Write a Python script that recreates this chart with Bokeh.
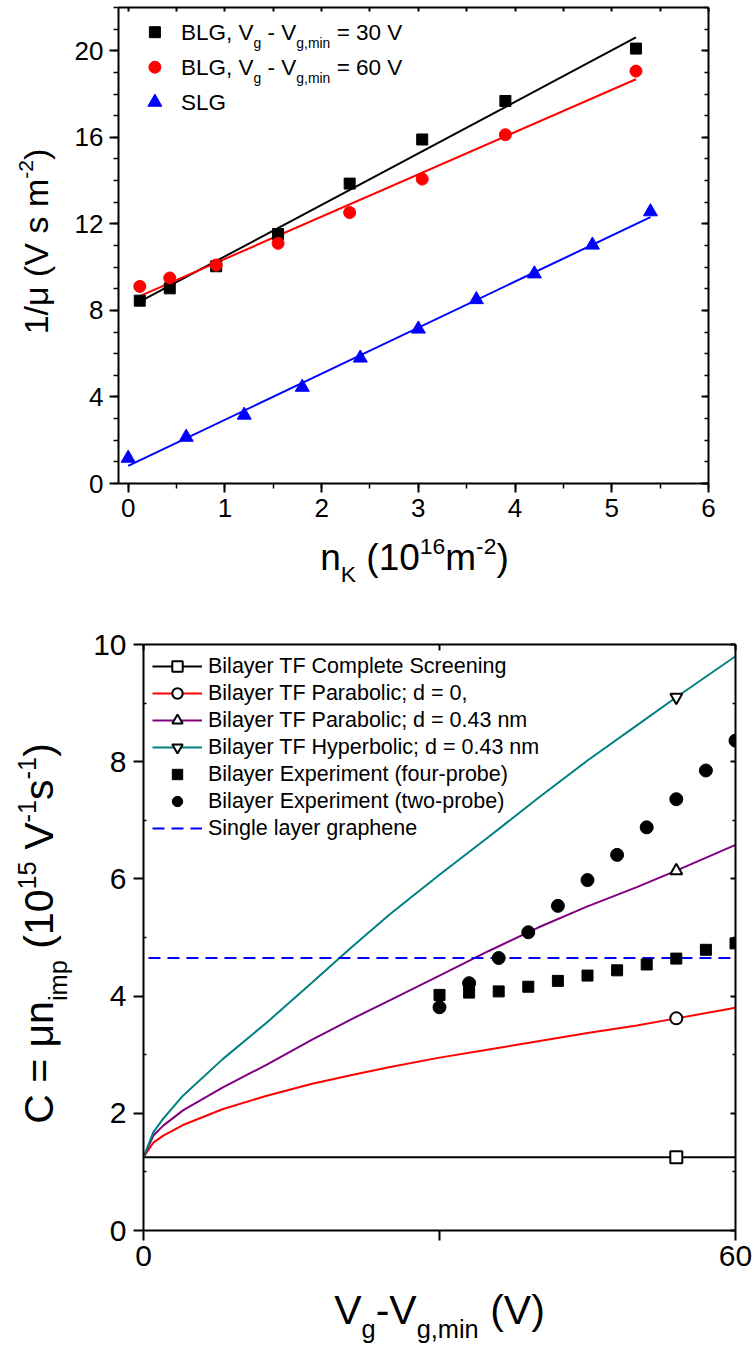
import numpy as np
from bokeh.plotting import figure
from bokeh.models import Range1d, LinearAxis, FixedTicker, Label, Legend, LegendItem
from bokeh.layouts import column, row
from bokeh.embed import file_html
from bokeh.resources import INLINE

# ---------------- data: top panel (1/mu vs n_K) ----------------
nk_blg = [0.12, 0.43, 0.91, 1.55, 2.29, 3.04, 3.90, 5.25]
inv_mu_blg30 = [8.45, 9.02, 10.04, 11.53, 13.86, 15.90, 17.68, 20.10]
inv_mu_blg60 = [9.11, 9.50, 10.10, 11.10, 12.52, 14.07, 16.12, 19.06]
nk_slg = [0.0, 0.6, 1.2, 1.8, 2.4, 3.0, 3.6, 4.2, 4.8, 5.4]
inv_mu_slg = [1.17, 2.14, 3.16, 4.45, 5.80, 7.14, 8.50, 9.69, 11.02, 12.56]
top_xticks = [0, 1, 2, 3, 4, 5, 6]
top_yticks = [0, 4, 8, 12, 16, 20]

# ---------------- data: bottom panel (C vs Vg - Vg,min) ----------------
vg_theory = [0, 1, 2, 4, 8, 12.5, 17, 21, 25, 30, 35, 40, 45, 50, 54, 60]
c_parab_d0 = [1.25, 1.50, 1.62, 1.80, 2.07, 2.30, 2.50, 2.65, 2.79, 2.95, 3.09, 3.23, 3.37, 3.50, 3.62, 3.80]
c_parab_d043 = [1.25, 1.62, 1.79, 2.05, 2.44, 2.83, 3.25, 3.60, 3.93, 4.35, 4.77, 5.17, 5.53, 5.86, 6.14, 6.58]
c_hyperb_d043 = [1.25, 1.68, 1.91, 2.30, 2.92, 3.55, 4.22, 4.82, 5.40, 6.07, 6.72, 7.38, 8.02, 8.62, 9.10, 9.80]
vg_complete = [0, 60]
c_complete = [1.25, 1.25]
vg_exp = [30, 33, 36, 39, 42, 45, 48, 51, 54, 57, 60]
c_four_probe = [4.02, 4.06, 4.08, 4.16, 4.26, 4.35, 4.44, 4.54, 4.64, 4.79, 4.90]
c_two_probe = [3.81, 4.22, 4.65, 5.09, 5.54, 5.98, 6.41, 6.88, 7.36, 7.85, 8.36]
vg_slg = [0.5, 60]
c_slg = [4.65, 4.65]
marker_vg = 54.0
bot_xticks = [0, 30, 60]
bot_yticks = [0, 2, 4, 6, 8, 10]

FONT = "Liberation Sans"
NB = "\u00a0"

# Arial / Liberation Sans advance widths (per 1000 em)
AW = {' ': 278, NB: 278, '(': 333, ')': 333, ',': 278, '-': 333, '.': 278, '/': 278, '=': 584,
      'B': 667, 'C': 722, 'F': 611, 'G': 778, 'K': 667, 'L': 556, 'S': 667, 'T': 611, 'V': 667,
      'c': 500, 'g': 556, 'i': 222, 'l': 222, 'm': 833, 'n': 556, 'p': 556, 'r': 333, 's': 500,
      't': 278, 'y': 500, '\u03bc': 576}


def text_w(s, size):
    return sum(AW.get(c, 556) for c in s) / 1000.0 * size


SUB = 0.62
BASE_FIX = 0.35   # Bokeh draws "alphabetic" text ~0.35 em below the anchor; compensate


def rich_label(p, to_data, X, Y, pieces, size, rotate=False, center=True):
    """Place text made of normal / subscript / superscript pieces; (X, Y) = baseline in page pixels."""
    x, y = to_data(X, Y)
    sizes = [size * (1 if k == "n" else SUB) for _, k in pieces]
    widths = [text_w(t, s) for (t, _), s in zip(pieces, sizes)]
    adv = -sum(widths) / 2 if center else 0.0
    for (t, k), fs, w in zip(pieces, sizes, widths):
        rise = {"n": 0.0, "b": -0.32 * size, "p": 0.42 * size}[k] + BASE_FIX * fs
        xo, yo = ((-rise, adv) if rotate else (adv, rise))
        p.add_layout(Label(x=x, y=y, x_offset=xo, y_offset=yo, text=t.replace(" ", NB),
                           angle=(np.pi / 2 if rotate else 0.0),
                           text_font=FONT, text_font_size=f"{fs:.1f}px", text_color="black",
                           text_baseline="alphabetic", text_align="left"))
        adv += w


def style_axis(ax, ticks, minor, fsize, out_major, in_major, out_minor, in_minor, standoff,
               labels=True, overrides=None):
    ax.ticker = FixedTicker(ticks=ticks, minor_ticks=minor)
    ax.axis_line_width = 2
    ax.axis_line_color = "black"
    ax.major_tick_line_width = 2
    ax.minor_tick_line_width = 1.5
    ax.major_tick_out = out_major
    ax.major_tick_in = in_major
    ax.minor_tick_out = out_minor
    ax.minor_tick_in = in_minor
    ax.axis_label = None
    if labels:
        ax.major_label_text_font = FONT
        ax.major_label_text_font_size = fsize
        ax.major_label_text_color = "black"
        ax.major_label_standoff = standoff
        if overrides:
            ax.major_label_overrides = overrides
    else:
        # mirror axis: ticks only, labels are not painted
        ax.major_label_text_font_size = "1px"
        ax.major_label_text_color = None
        ax.major_label_standoff = 0


def label_fig(X0, X1, Y0, Y1, left=0, right=0):
    """Text-only panel whose data coordinates are page pixels (y downwards)."""
    f = figure(frame_width=X1 - X0, frame_height=Y1 - Y0,
               x_range=Range1d(X0, X1), y_range=Range1d(Y1, Y0),
               min_border_left=left, min_border_right=right, min_border_top=0, min_border_bottom=0,
               x_axis_type=None, y_axis_type=None, toolbar_location=None, output_backend="svg")
    f.outline_line_color = None
    f.background_fill_color = "white"
    f.border_fill_color = "white"
    return f


def page(X, Y):
    return X, Y


# common plot borders
BL, BR = 52, 20

# ======================= TOP PANEL =======================
T_L, T_R, T_T, T_B = 118, 708, 7, 483   # frame in page pixels
TOP_H = 620
P1_BOT = 47
tx0, tx1, ty0, ty1 = -0.1, 6.0, 0.0, 22.0


def top_xy(X, Y):
    return (tx0 + (X - T_L) / (T_R - T_L) * (tx1 - tx0), ty0 + (T_B - Y) / (T_B - T_T) * (ty1 - ty0))


p1 = figure(frame_width=T_R - T_L, frame_height=T_B - T_T,
            x_range=Range1d(tx0, tx1), y_range=Range1d(ty0, ty1),
            min_border_left=BL, min_border_right=BR, min_border_top=T_T, min_border_bottom=P1_BOT,
            output_backend="svg", toolbar_location=None)
p1.grid.visible = False
p1.outline_line_color = None
p1.background_fill_color = "white"
p1.border_fill_color = "white"

half_steps = [i * 0.5 for i in range(0, 13)]
style_axis(p1.below[0], top_xticks, half_steps, "26px", 9, 0, 5, 0, 6)
style_axis(p1.left[0], top_yticks, list(range(0, 23)), "26px", 9, 0, 5, 0, 6)
ax_r = LinearAxis()
style_axis(ax_r, top_yticks, list(range(0, 23)), None, 0, 7, 0, 4, 0, labels=False)
p1.add_layout(ax_r, "right")
ax_t = LinearAxis()
style_axis(ax_t, half_steps, [], None, 0, 4, 0, 0, 0, labels=False)
p1.add_layout(ax_t, "above")

for xs, ys, col in [(nk_blg, inv_mu_blg30, "black"), (nk_blg, inv_mu_blg60, "#FF0000"),
                    (nk_slg, inv_mu_slg, "#0000FF")]:
    coef = np.polyfit(xs, ys, 1)
    xf = np.array([min(xs), max(xs)])
    p1.line(xf, np.polyval(coef, xf), line_color=col, line_width=2)

p1.scatter(nk_blg, inv_mu_blg30, marker="square", size=11, color="black")
p1.scatter(nk_blg, inv_mu_blg60, marker="circle", size=12, color="#FF0000")
p1.scatter(nk_slg, inv_mu_slg, marker="triangle", size=14, color="#0000FF")

# legend of the top panel (drawn by hand because of the subscripts)
leg_rows_Y = [31.7, 66.7, 101.7]
leg_specs = [("square", 11, "black"), ("circle", 12, "#FF0000"), ("triangle", 14, "#0000FF")]
leg_texts = [
    [("BLG, V", "n"), ("g", "b"), (" - V", "n"), ("g,min", "b"), (" = 30 V", "n")],
    [("BLG, V", "n"), ("g", "b"), (" - V", "n"), ("g,min", "b"), (" = 60 V", "n")],
    [("SLG", "n")],
]
for Yc, (mk, sz, col), pieces in zip(leg_rows_Y, leg_specs, leg_texts):
    mx, my = top_xy(154.4, Yc)
    p1.scatter([mx], [my], marker=mk, size=sz, color=col)
    rich_label(p1, top_xy, 180.5, Yc + 8.0, pieces, 22.5, center=False)

# axis-title panels of the top plot
yl1 = label_fig(0, T_L - BL, 0, TOP_H)
rich_label(yl1, page, 47, 241,
           [("1/\u03bc (V s m", "n"), ("-2", "p"), (")", "n")], 34, rotate=True)
P1_H = T_B + P1_BOT
xl1 = label_fig(T_L, T_R, P1_H, TOP_H, left=BL, right=BR)
rich_label(xl1, page, 414, 570,
           [("n", "n"), ("K", "b"), (" (10", "n"), ("16", "p"), ("m", "n"), ("-2", "p"), (")", "n")], 37)

# ======================= BOTTOM PANEL =======================
B_L, B_R, B_T, B_B = 142, 734, 644, 1230
PAGE_H = 1348
bx0, bx1, by0, by1 = 0.0, 60.0, 0.0, 10.0

P2_BOT = 52
p2 = figure(frame_width=B_R - B_L, frame_height=B_B - B_T,
            x_range=Range1d(bx0, bx1), y_range=Range1d(by0, by1),
            min_border_left=BL, min_border_right=BR, min_border_top=B_T - TOP_H,
            min_border_bottom=P2_BOT, output_backend="svg", toolbar_location=None)
p2.grid.visible = False
p2.outline_line_color = None
p2.background_fill_color = "white"
p2.border_fill_color = "white"

style_axis(p2.below[0], bot_xticks, [], "30px", 10, 0, 0, 0, 5, overrides={30: ""})
style_axis(p2.left[0], bot_yticks, [1, 3, 5, 7, 9], "30px", 10, 0, 0, 3, 7)
ax_r2 = LinearAxis()
style_axis(ax_r2, bot_yticks, [1, 3, 5, 7, 9], None, 0, 5, 0, 3, 0, labels=False)
p2.add_layout(ax_r2, "right")
ax_t2 = LinearAxis()
style_axis(ax_t2, bot_xticks, [], None, 0, 6, 0, 0, 0, labels=False)
p2.add_layout(ax_t2, "above")

l_comp = p2.line(vg_complete, c_complete, line_color="black", line_width=2)
l_par0 = p2.line(vg_theory, c_parab_d0, line_color="#FF0000", line_width=2)
l_par4 = p2.line(vg_theory, c_parab_d043, line_color="#800080", line_width=2)
l_hyp = p2.line(vg_theory, c_hyperb_d043, line_color="#008080", line_width=2)
l_slg = p2.line(vg_slg, c_slg, line_color="#0000FF", line_width=2, line_dash="12 7")

open_kw = dict(size=12, line_color="black", line_width=2, fill_color="white")
m_comp = p2.scatter([marker_vg], [float(np.interp(marker_vg, vg_complete, c_complete))], marker="square", **open_kw)
m_par0 = p2.scatter([marker_vg], [float(np.interp(marker_vg, vg_theory, c_parab_d0))], marker="circle", **open_kw)
m_par4 = p2.scatter([marker_vg], [float(np.interp(marker_vg, vg_theory, c_parab_d043))], marker="triangle", **open_kw)
m_hyp = p2.scatter([marker_vg], [float(np.interp(marker_vg, vg_theory, c_hyperb_d043))], marker="inverted_triangle", **open_kw)

s_four = p2.scatter(vg_exp, c_four_probe, marker="square", size=11, color="black")
s_two = p2.scatter(vg_exp, c_two_probe, marker="circle", size=13, color="black")

legend = Legend(items=[
    LegendItem(label="Bilayer TF Complete Screening", renderers=[l_comp, m_comp]),
    LegendItem(label="Bilayer TF Parabolic; d = 0,", renderers=[l_par0, m_par0]),
    LegendItem(label="Bilayer TF Parabolic; d = 0.43 nm", renderers=[l_par4, m_par4]),
    LegendItem(label="Bilayer TF Hyperbolic; d = 0.43 nm", renderers=[l_hyp, m_hyp]),
    LegendItem(label="Bilayer Experiment (four-probe)", renderers=[s_four]),
    LegendItem(label="Bilayer Experiment (two-probe)", renderers=[s_two]),
    LegendItem(label="Single layer graphene", renderers=[l_slg]),
], location="top_left")
legend.label_text_font = FONT
legend.label_text_font_size = "21.5px"
legend.label_text_color = "black"
legend.glyph_width = 50
legend.glyph_height = 26
legend.label_standoff = 6
legend.spacing = 1
legend.padding = 9
legend.margin = 0
legend.background_fill_alpha = 0
legend.border_line_alpha = 0
p2.add_layout(legend)

yl2 = label_fig(0, B_L - BL, TOP_H, PAGE_H)
rich_label(yl2, page, 53, 933,
           [("C = \u03bcn", "n"), ("imp", "b"), (" (10", "n"), ("15", "p"), (" V", "n"),
            ("-1", "p"), ("s", "n"), ("-1", "p"), (")", "n")], 41, rotate=True)
P2_END = B_B + P2_BOT
xl2 = label_fig(B_L, B_R, P2_END, PAGE_H, left=BL, right=BR)
rich_label(xl2, page, 438, 1324,
           [("V", "n"), ("g", "b"), ("-V", "n"), ("g,min", "b"), (" (V)", "n")], 41)

layout = column(row(yl1, column(p1, xl1)), row(yl2, column(p2, xl2)))
open("out.html", "w").write(file_html(layout, INLINE))
